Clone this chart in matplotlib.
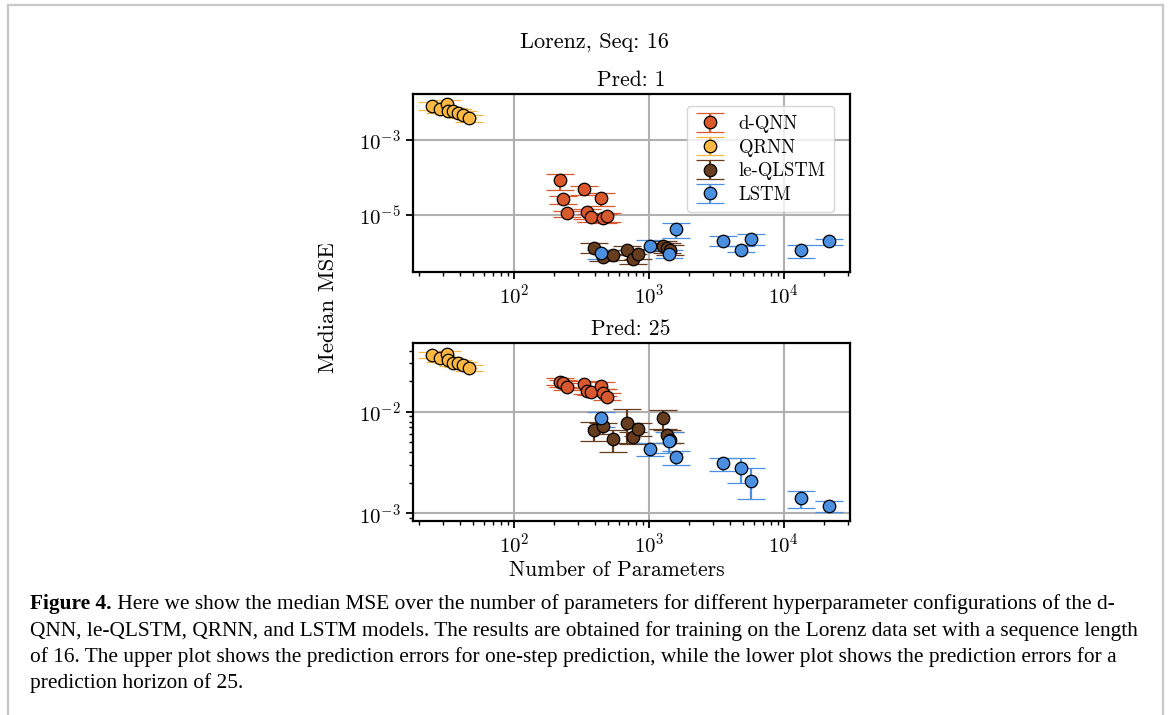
import matplotlib
matplotlib.use("Agg")
import matplotlib.pyplot as plt
from matplotlib.lines import Line2D
from matplotlib.ticker import LogLocator, NullLocator

plt.rcParams.update({
    "font.family": "cmr10",
    "mathtext.fontset": "cm",
    "axes.formatter.use_mathtext": True,
    "font.size": 14,
})

# parameter counts per configuration
qrnn_params = [24.7, 28.5, 31.9, 32.8, 35.7, 38.9, 42.4, 47.0]
dqnn_params = [220, 233, 250, 334, 351, 372, 441, 461, 494]
qlstm_params = [394, 461, 541, 695, 770, 838, 1270, 1360, 1439]
lstm_params = [443, 1023, 1406, 1592, 3573, 4830, 5757, 13360, 21770]

# Pred: 1 -- median MSE with lower / upper bounds
qrnn_p1 = [7.9e-3, 6.4e-3, 8.8e-3, 5.9e-3, 5.6e-3, 5.1e-3, 4.6e-3, 3.7e-3]
qrnn_p1_lo = [6.3e-3, 5.1e-3, 7.0e-3, 4.7e-3, 4.5e-3, 4.1e-3, 3.7e-3, 3.0e-3]
qrnn_p1_hi = [9.9e-3, 8.0e-3, 1.1e-2, 7.4e-3, 7.0e-3, 6.4e-3, 5.8e-3, 4.6e-3]

dqnn_p1 = [8.8e-5, 2.7e-5, 1.15e-5, 4.97e-5, 1.2e-5, 9.0e-6, 2.87e-5, 8.5e-6, 9.4e-6]
dqnn_p1_lo = [4.8e-5, 2.0e-5, 9.0e-6, 3.5e-5, 8.0e-6, 6.9e-6, 1.8e-5, 6.5e-6, 6.9e-6]
dqnn_p1_hi = [1.24e-4, 3.3e-5, 1.33e-5, 5.9e-5, 1.47e-5, 1.11e-5, 3.9e-5, 1.11e-5, 1.15e-5]

qlstm_p1 = [1.37e-6, 8.2e-7, 9.1e-7, 1.19e-6, 7.0e-7, 9.7e-7, 1.58e-6, 1.37e-6, 1.24e-6]
qlstm_p1_lo = [1.0e-6, 6.1e-7, 6.7e-7, 8.8e-7, 5.2e-7, 7.2e-7, 1.17e-6, 1.0e-6, 9.2e-7]
qlstm_p1_hi = [1.9e-6, 1.1e-6, 1.23e-6, 1.6e-6, 9.5e-7, 1.3e-6, 2.1e-6, 1.85e-6, 1.67e-6]

lstm_p1 = [1.0e-6, 1.58e-6, 9.7e-7, 4.36e-6, 2.06e-6, 1.24e-6, 2.37e-6, 1.24e-6, 2.06e-6]
lstm_p1_lo = [7.0e-7, 1.19e-6, 7.4e-7, 2.5e-6, 1.52e-6, 1.05e-6, 1.61e-6, 7.4e-7, 1.68e-6]
lstm_p1_hi = [1.24e-6, 2.18e-6, 1.24e-6, 6.3e-6, 2.8e-6, 1.52e-6, 3.2e-6, 1.61e-6, 2.37e-6]

# Pred: 25
qrnn_p25 = [0.036, 0.0335, 0.0369, 0.0322, 0.0305, 0.0299, 0.0288, 0.0271]
qrnn_p25_lo = [0.0335, 0.031, 0.0343, 0.030, 0.0284, 0.0278, 0.0268, 0.0252]
qrnn_p25_hi = [0.0387, 0.036, 0.0397, 0.0346, 0.0328, 0.0321, 0.031, 0.0291]

dqnn_p25 = [0.0197, 0.019, 0.0176, 0.0187, 0.016, 0.0157, 0.018, 0.0154, 0.0141]
dqnn_p25_lo = [0.0182, 0.0176, 0.0163, 0.0173, 0.0148, 0.0145, 0.0167, 0.0143, 0.0131]
dqnn_p25_hi = [0.0213, 0.0205, 0.0190, 0.0202, 0.0173, 0.0170, 0.0195, 0.0166, 0.0152]

qlstm_p25 = [6.6e-3, 7.2e-3, 5.34e-3, 7.8e-3, 5.6e-3, 6.7e-3, 8.7e-3, 5.9e-3, 5.3e-3]
qlstm_p25_lo = [5.2e-3, 6.0e-3, 4.0e-3, 4.9e-3, 4.8e-3, 5.8e-3, 6.8e-3, 4.9e-3, 4.9e-3]
qlstm_p25_hi = [8.0e-3, 7.8e-3, 6.6e-3, 1.06e-2, 6.35e-3, 7.7e-3, 1.05e-2, 6.6e-3, 6.35e-3]

lstm_p25 = [8.6e-3, 4.3e-3, 5.1e-3, 3.58e-3, 3.1e-3, 2.77e-3, 2.09e-3, 1.41e-3, 1.19e-3]
lstm_p25_lo = [7.1e-3, 3.66e-3, 3.95e-3, 3.0e-3, 2.63e-3, 1.97e-3, 1.38e-3, 1.12e-3, 1.02e-3]
lstm_p25_hi = [1.0e-2, 4.9e-3, 6.35e-3, 4.1e-3, 3.53e-3, 3.53e-3, 2.77e-3, 1.67e-3, 1.33e-3]

COLORS = {
    "d-QNN": "#d9582c",
    "QRNN": "#fdb843",
    "le-QLSTM": "#673d1f",
    "LSTM": "#4a8fe0",
}

CAPTION_BOLD = "Figure 4."
CAPTION_LINES = [
    " Here we show the median MSE over the number of parameters for different hyperparameter configurations of the d-",
    "QNN, le-QLSTM, QRNN, and LSTM models. The results are obtained for training on the Lorenz data set with a sequence length",
    "of 16. The upper plot shows the prediction errors for one-step prediction, while the lower plot shows the prediction errors for a",
    "prediction horizon of 25.",
]


def draw_series(ax, x, y, lo, hi, label):
    yerr = [[m - l for m, l in zip(y, lo)], [h - m for m, h in zip(y, hi)]]
    ax.errorbar(x, y, yerr=yerr, fmt="o", color=COLORS[label], ecolor=COLORS[label],
                elinewidth=1.6, capsize=10, capthick=1.2, markersize=9,
                markeredgecolor="black", markeredgewidth=0.9, label=label)


def style_axes(ax):
    ax.set_xscale("log")
    ax.set_yscale("log")
    ax.set_xlim(17.8, 30900)
    ax.grid(True, which="major", color="#b0b0b0", linewidth=1.5)
    ax.set_axisbelow(True)
    for sp in ax.spines.values():
        sp.set_linewidth(1.6)
    ax.xaxis.set_major_locator(LogLocator(base=10, numticks=10))
    ax.xaxis.set_minor_locator(LogLocator(base=10, subs=range(2, 10), numticks=10))
    ax.tick_params(which="major", length=5, width=1.3, labelsize=15)
    ax.tick_params(which="minor", length=3, width=1.0)


fig = plt.figure(figsize=(11.68, 7.15), dpi=100)

ax1 = fig.add_axes([0.3532, 0.6196, 0.3745, 0.2483])
ax2 = fig.add_axes([0.3532, 0.2717, 0.3745, 0.2481])

draw_series(ax1, dqnn_params, dqnn_p1, dqnn_p1_lo, dqnn_p1_hi, "d-QNN")
draw_series(ax1, qrnn_params, qrnn_p1, qrnn_p1_lo, qrnn_p1_hi, "QRNN")
draw_series(ax1, qlstm_params, qlstm_p1, qlstm_p1_lo, qlstm_p1_hi, "le-QLSTM")
draw_series(ax1, lstm_params, lstm_p1, lstm_p1_lo, lstm_p1_hi, "LSTM")

draw_series(ax2, dqnn_params, dqnn_p25, dqnn_p25_lo, dqnn_p25_hi, "d-QNN")
draw_series(ax2, qrnn_params, qrnn_p25, qrnn_p25_lo, qrnn_p25_hi, "QRNN")
draw_series(ax2, qlstm_params, qlstm_p25, qlstm_p25_lo, qlstm_p25_hi, "le-QLSTM")
draw_series(ax2, lstm_params, lstm_p25, lstm_p25_lo, lstm_p25_hi, "LSTM")

style_axes(ax1)
style_axes(ax2)

ax1.set_ylim(3.2e-7, 1.58e-2)
ax1.set_yticks([1e-5, 1e-3])
ax1.yaxis.set_minor_locator(NullLocator())
ax2.set_ylim(8.45e-4, 0.0471)
ax2.yaxis.set_major_locator(LogLocator(base=10, numticks=10))
ax2.yaxis.set_minor_locator(LogLocator(base=10, subs=range(2, 10), numticks=10))

ax1.set_title("Pred: 1", fontsize=15.5, pad=6)
ax2.set_title("Pred: 25", fontsize=15.5, pad=6)

leg = ax1.legend(loc="upper right", fontsize=13.5, framealpha=0.8, edgecolor="#cccccc",
                 handlelength=1.6, handletextpad=0.7, borderpad=0.45, labelspacing=0.3,
                 bbox_to_anchor=(0.985, 0.985))

fig.text(594 / 1168, 1 - 42 / 715, "Lorenz, Seq: 16", ha="center", va="center", fontsize=16)
fig.text(328 / 1168, 1 - 308 / 715, "Median MSE", ha="center", va="center",
         rotation=90, fontsize=16.5)
fig.text(617 / 1168, 1 - 570 / 715, "Number of Parameters", ha="center", va="center",
         fontsize=15.5)

# caption below the panels, sized so the second line runs the full text width
renderer = fig.canvas.get_renderer()
probe = fig.text(0, 0, CAPTION_LINES[1], family="Liberation Serif", fontsize=10)
probe_w = probe.get_window_extent(renderer=renderer).width
probe.remove()
cap_size = 10 * 1110 / probe_w

cap_kw = dict(family="Liberation Serif", fontsize=cap_size, va="center", ha="left")
x0 = 30 / 1168
line_y = [604, 631, 657, 683]
bold = fig.text(x0, 1 - line_y[0] / 715, CAPTION_BOLD, fontweight="bold", **cap_kw)
bb = bold.get_window_extent(renderer=renderer)
fig.text(bb.x1 / fig.bbox.width, 1 - line_y[0] / 715, CAPTION_LINES[0], **cap_kw)
for yy, line in zip(line_y[1:], CAPTION_LINES[1:]):
    fig.text(x0, 1 - yy / 715, line, **cap_kw)

# page frame
W, H = 1168, 715
frame_kw = dict(transform=fig.transFigure, color="#c8c8c8", linewidth=1.6)
fig.add_artist(Line2D([7.5 / W, 1162.5 / W], [1 - 5 / H, 1 - 5 / H], **frame_kw))
fig.add_artist(Line2D([7.5 / W, 7.5 / W], [1 - 5 / H, 0], **frame_kw))
fig.add_artist(Line2D([1162.5 / W, 1162.5 / W], [1 - 5 / H, 0], **frame_kw))

fig.savefig("out.png", dpi=100)
